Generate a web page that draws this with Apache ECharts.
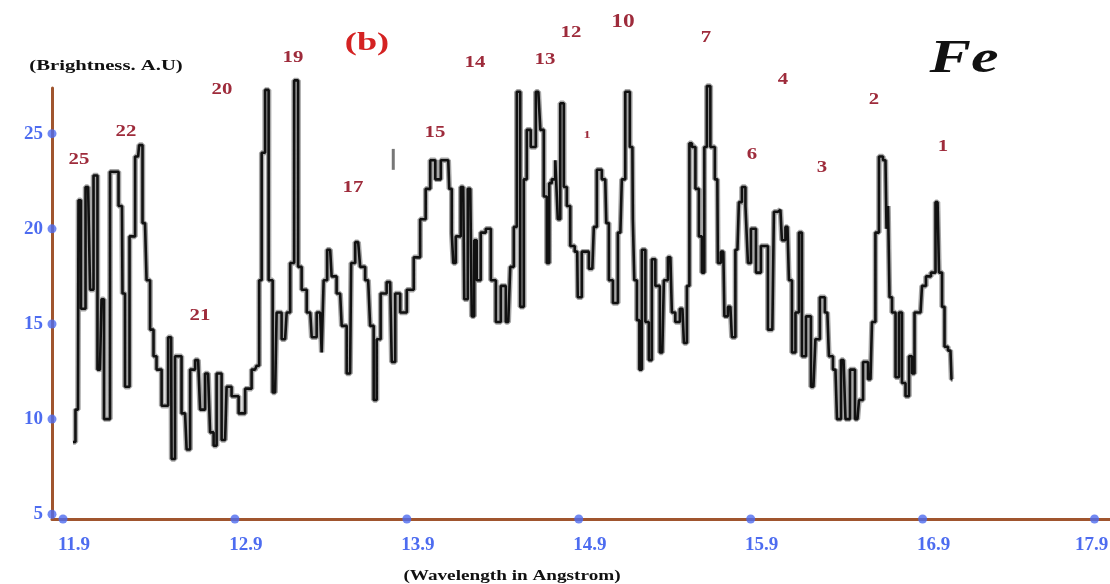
<!DOCTYPE html>
<html><head><meta charset="utf-8">
<script src="https://cdn.jsdelivr.net/npm/echarts@6/dist/echarts.min.js"></script>
<style>html,body{margin:0;padding:0;background:#fff}#c{width:1110px;height:584px}</style>
</head><body><div id="c"></div>
<script>
const xTicks = [11.9, 12.9, 13.9, 14.9, 15.9, 16.9, 17.9];
const yTicks = [5, 10, 15, 20, 25];
const wavelength = [
11.958,11.987,11.993,12.016,12.046,12.069,12.086,12.115,12.133,12.144,12.203,12.243,12.249,12.272,12.302,12.337,12.348,12.377,12.395,12.418,12.435,12.453,12.494,12.529,12.534,12.569,12.610,12.628,12.651,12.686,12.709,12.744,12.767,12.785,12.802,12.843,12.860,12.901,12.942,12.977,13.017,13.035,13.047,13.064,13.087,13.105,13.134,13.151,13.192,13.210,13.233,13.256,
13.279,13.297,13.338,13.355,13.396,13.413,13.419,13.454,13.471,13.512,13.530,13.570,13.582,13.617,13.640,13.675,13.698,13.716,13.733,13.762,13.803,13.821,13.844,13.879,13.920,13.960,13.995,14.024,14.048,14.083,14.112,14.141,14.152,14.170,14.170,14.199,14.228,14.240,14.269,14.286,14.298,14.315,14.344,14.374,14.403,14.432,14.461,14.490,14.513,14.531,14.548,14.571,14.589,14.606,14.635,
14.665,14.688,14.705,14.723,14.734,14.752,14.775,14.781,14.804,14.822,14.839,14.862,14.891,14.897,14.938,14.979,14.996,15.014,15.054,15.066,15.084,15.113,15.142,15.159,15.182,15.212,15.217,15.229,15.247,15.258,15.276,15.299,15.316,15.334,15.357,15.386,15.404,15.433,15.450,15.473,15.503,15.520,15.538,15.549,15.567,15.590,15.607,15.625,15.636,15.654,15.677,15.706,15.712,15.741,15.753,15.782,15.799,15.823,15.840,15.858,15.881,15.887,15.916,15.945,15.974,
16.026,16.044,16.073,16.090,16.114,16.131,16.149,16.172,16.189,16.207,16.236,16.265,16.288,16.317,16.346,16.364,16.393,16.411,16.440,16.463,16.492,16.521,16.539,16.568,16.597,16.614,16.637,16.655,16.684,16.696,16.702,16.713,16.731,16.754,16.771,16.789,16.812,16.830,16.847,16.859,16.888,16.905,16.934,16.963,16.987,17.004,17.022,17.033,17.062,17.074
];
const brightness = [
8.8,10.5,21.5,15.8,22.2,16.8,22.8,12.6,16.3,10.0,23.0,21.2,16.6,11.7,19.6,23.8,24.4,20.3,17.3,14.7,13.3,12.6,10.7,14.3,7.9,13.3,10.3,8.4,12.6,13.1,10.5,12.4,9.3,8.6,12.4,8.9,11.7,11.2,10.3,11.6,12.6,12.8,17.3,24.0,27.3,17.3,11.4,15.6,14.2,15.6,18.2,27.8,
18.0,16.8,15.6,14.3,15.6,13.5,17.3,18.9,17.5,16.6,14.9,12.4,18.2,19.3,18.0,17.3,14.9,11.0,14.2,16.6,17.2,13.0,16.6,15.6,16.8,18.5,20.5,22.1,23.6,22.6,23.6,23.6,22.1,19.8,18.2,19.6,22.2,16.3,22.1,15.4,19.4,17.3,19.8,20.0,17.3,15.1,17.0,15.1,18.0,20.1,27.2,15.9,22.6,25.2,24.3,
27.2,25.2,21.7,18.2,22.4,22.6,23.6,20.5,26.6,22.2,21.2,19.1,18.8,16.4,18.8,17.9,20.1,23.1,22.6,20.3,17.3,16.1,19.8,22.6,27.2,24.3,20.5,17.3,15.2,12.6,18.9,15.1,13.1,18.4,17.0,13.5,17.3,18.5,15.6,15.1,15.8,14.0,17.0,24.5,24.3,22.1,19.6,17.7,24.3,27.5,24.3,22.6,18.2,18.8,15.4,15.9,14.3,18.9,21.4,22.2,21.2,18.2,20.0,17.7,19.1,
14.7,20.9,21.0,19.4,20.1,17.3,13.5,15.6,19.8,13.3,15.4,11.7,14.2,16.4,15.6,13.3,12.6,10.0,13.1,10.0,12.6,10.0,11.0,13.0,12.1,15.1,19.8,23.8,23.6,20.0,21.2,16.4,15.6,12.2,15.6,11.9,11.2,13.3,12.4,15.6,15.6,17.0,17.5,17.7,21.4,17.7,15.9,13.8,13.6,12.1
];
const dashWavelength = [13.821, 13.821];
const dashBrightness = [24.2, 23.1];
const peakLabels = ['25','22','20','19','21','17','15','14','13','12','10','1','7','4','6','2','3','1'];

const X_MIN = 11.836, X_MAX = 17.99, Y_MIN = 4.75, Y_MAX = 27.4;
const SERIF = "'Liberation Serif','DejaVu Serif','Times New Roman',serif";
const AXIS_COLOR = '#a0552e', TICK_COLOR = '#4d6cf0', PEAK_COLOR = '#9e2b3b';

const spectrum = wavelength.map((w, i) => [w, brightness[i]]);
const dash = dashWavelength.map((w, i) => [w, dashBrightness[i]]);
const dots = xTicks.map(t => [t, Y_MIN]).concat(yTicks.map(t => [X_MIN, t]));
const lastX = xTicks[xTicks.length - 1];

const labelPos = [[79,160],[126,132],[222,90],[293,58],[200,316],[353,188],[435,133],[475,63],[545,60],[571,33],[623,22],[587,135],[706,38],[783,80],[752,155],[874,100],[822,168],[943,147]];
const graphics = peakLabels.map((t, i) => ({
  type: 'text', x: labelPos[i][0], y: labelPos[i][1], z: 10, scaleX: 1.3,
  style: { text: t, fill: PEAK_COLOR, font: (i === 11 ? 'bold 11px ' : (i === 10 ? 'bold 18px ' : 'bold 16px ')) + SERIF, align: 'center', verticalAlign: 'middle' }
}));
graphics.push(
  { type: 'text', x: 106, y: 66, scaleX: 1.38, style: { text: '(Brightness. A.U)', fill: '#111', font: 'bold 15px ' + SERIF, align: 'center', verticalAlign: 'middle' } },
  { type: 'text', x: 512, y: 576, scaleX: 1.28, style: { text: '(Wavelength in Angstrom)', fill: '#111', font: 'bold 15px ' + SERIF, align: 'center', verticalAlign: 'middle' } },
  { type: 'text', x: 367, y: 44, scaleX: 1.45, style: { text: '(b)', fill: '#d42222', font: 'bold 25px ' + SERIF, align: 'center', verticalAlign: 'middle' } },
  { type: 'text', x: 964, y: 60, scaleX: 1.35, style: { text: 'Fe', fill: '#111', font: 'italic bold 46px ' + SERIF, align: 'center', verticalAlign: 'middle' } }
);

const tickFont = { color: TICK_COLOR, fontFamily: SERIF, fontWeight: 'bold', fontSize: 19 };

const chart = echarts.init(document.getElementById('c'));
chart.setOption({
  backgroundColor: '#ffffff',
  animation: false,
  grid: { left: 52, right: 0, top: 88, bottom: 65, outerBoundsMode: 'none', containLabel: false },
  xAxis: {
    type: 'value', min: X_MIN, max: X_MAX,
    axisLine: { show: true, onZero: false, lineStyle: { color: AXIS_COLOR, width: 3 } },
    axisTick: { show: false }, splitLine: { show: false },
    axisLabel: {
      customValues: xTicks, margin: 17, align: 'center', hideOverlap: false,
      formatter: v => (Math.abs(v - lastX) < 1e-6 ? '{e|' : '{n|') + v.toFixed(1) + '}',
      rich: {
        n: Object.assign({ padding: [0, 0, 0, 22] }, tickFont),
        e: Object.assign({ padding: [0, 6, 0, 0] }, tickFont)
      }
    }
  },
  yAxis: {
    type: 'value', min: Y_MIN, max: Y_MAX,
    axisLine: { show: true, onZero: false, lineStyle: { color: AXIS_COLOR, width: 3 } },
    axisTick: { show: false }, splitLine: { show: false },
    axisLabel: Object.assign({ customValues: yTicks, margin: 9, padding: [10, 0, 0, 0] }, tickFont)
  },
  graphic: graphics,
  series: [
    { type: 'line', data: spectrum, showSymbol: false, clip: false, step: 'middle', lineStyle: { color: '#909090', width: 5.5, opacity: 0.8 }, z: 2 },
    { type: 'line', data: spectrum, showSymbol: false, clip: false, step: 'middle', lineStyle: { color: '#111', width: 2.6 }, z: 3 },
    { type: 'line', data: dash, showSymbol: false, clip: false, lineStyle: { color: '#777', width: 3 }, z: 3 },
    { type: 'scatter', data: dots, symbolSize: 9, clip: false, itemStyle: { color: TICK_COLOR }, z: 5 }
  ]
});
</script></body></html>
